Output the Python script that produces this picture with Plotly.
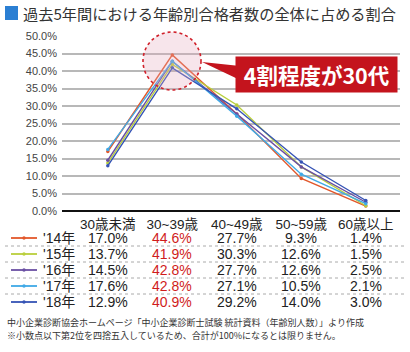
import plotly.graph_objects as go

categories = ["30歳未満", "30~39歳", "40~49歳", "50~59歳", "60歳以上"]
years = ["'14年", "'15年", "'16年", "'17年", "'18年"]
v14 = [17.0, 44.6, 27.7, 9.3, 1.4]
v15 = [13.7, 41.9, 30.3, 12.6, 1.5]
v16 = [14.5, 42.8, 27.7, 12.6, 2.5]
v17 = [17.6, 42.8, 27.1, 10.5, 2.1]
v18 = [12.9, 40.9, 29.2, 14.0, 3.0]
series = [v14, v15, v16, v17, v18]
colors = ["#e2572b", "#b9cf3c", "#6a4fa3", "#3fa9e6", "#3553b5"]
yticks = [0, 5, 10, 15, 20, 25, 30, 35, 40, 45, 50]
title = "過去5年間における年齢別合格者数の全体に占める割合"
callout = "4割程度が30代"
note1 = "中小企業診断協会ホームページ「中小企業診断士試験 統計資料（年齢別人数）」より作成"
note2 = "※小数点以下第2位を四捨五入しているため、合計が100%になるとは限りません。"

W, H = 410, 352
L, R, T, B = 62, 10, 36, 141
PW, PH = W - L - R, H - T - B
FONT = "Noto Sans CJK JP"
NUMFONT = "Liberation Sans, Noto Sans CJK JP"
RED = "#c4141d"


def px(x):
    return (x - L) / PW


def py(y):
    return (H - B - y) / PH


xs = list(range(len(categories)))
fig = go.Figure()
for name, vals, c in zip(years, series, colors):
    fig.add_trace(go.Scatter(x=xs, y=vals, mode="lines+markers", name=name,
                             line=dict(color=c, width=1.4),
                             marker=dict(size=3.5, color=c), showlegend=False))

shapes = []
annotations = []

# title
shapes.append(dict(type="rect", xref="paper", yref="paper", x0=px(5), x1=px(18), y0=py(20), y1=py(6),
                   fillcolor="#2b7fd3", line=dict(width=0), layer="above"))
annotations.append(dict(text=title, xref="paper", yref="paper", x=px(21), y=py(13), xanchor="left",
                        yanchor="middle", showarrow=False, font=dict(size=15.2, color="#333", family=FONT)))

# highlight circle
shapes.append(dict(type="circle", xref="paper", yref="paper", x0=px(143), x1=px(201), y0=py(90), y1=py(32),
                   fillcolor="rgba(230,170,190,0.3)", line=dict(color="#d0202a", width=1.6, dash="dot"),
                   layer="above"))
# tail
shapes.append(dict(type="path", xref="paper", yref="paper",
                   path=f"M {px(202)} {py(62)} L {px(240)} {py(66)} L {px(240)} {py(80)} Z",
                   fillcolor=RED, line=dict(width=0), layer="above"))
# callout box (annotation with background)
bx0, bx1, by0, by1 = 236, 397, 57, 92
annotations.append(dict(text=f"<b>{callout}</b>", xref="paper", yref="paper", x=px((bx0 + bx1) / 2),
                        y=py((by0 + by1) / 2), xanchor="center", yanchor="middle", showarrow=False,
                        width=bx1 - bx0 - 4, height=by1 - by0 - 4, borderpad=2, bgcolor=RED,
                        font=dict(size=21.5, color="white", family=FONT)))

# table
row_y = [238, 254, 270, 286, 302]
for i, (name, vals, c) in enumerate(zip(years, series, colors)):
    ry = row_y[i]
    shapes.append(dict(type="line", xref="paper", yref="paper", x0=px(11), x1=px(37), y0=py(ry), y1=py(ry),
                       line=dict(color=c, width=1.8)))
    shapes.append(dict(type="circle", xref="paper", yref="paper", x0=px(22.3), x1=px(25.7), y0=py(ry + 1.7),
                       y1=py(ry - 1.7), fillcolor=c, line=dict(width=0)))
    annotations.append(dict(text=name, xref="paper", yref="paper", x=px(41), y=py(ry), xanchor="left",
                            yanchor="middle", showarrow=False,
                            font=dict(size=14, color="#222", family=NUMFONT)))
    for j, v in enumerate(vals):
        annotations.append(dict(text=f"{v:.1f}%", xref="x", yref="paper", x=xs[j], y=py(ry),
                                yanchor="middle", showarrow=False,
                                font=dict(size=14, color="#d01c1c" if j == 1 else "#222", family=NUMFONT)))
    if i < len(years) - 1:
        shapes.append(dict(type="line", xref="paper", yref="paper", x0=px(5), x1=px(405),
                           y0=py(ry + 8), y1=py(ry + 8), line=dict(color="#aaa", width=1, dash="dot")))

annotations.append(dict(text=note1, xref="paper", yref="paper", x=px(5), y=py(322), xanchor="left",
                        yanchor="middle", showarrow=False, font=dict(size=9, color="#333", family=FONT)))
annotations.append(dict(text=note2, xref="paper", yref="paper", x=px(5), y=py(335), xanchor="left",
                        yanchor="middle", showarrow=False, font=dict(size=9, color="#333", family=FONT)))

fig.update_layout(
    width=W, height=H, margin=dict(l=L, r=R, t=T, b=B, pad=0),
    paper_bgcolor="white", plot_bgcolor="white",
    shapes=shapes, annotations=annotations,
    font=dict(family=FONT),
    xaxis=dict(range=[-0.71, 4.53], tickvals=xs, ticktext=categories, showgrid=False, zeroline=False,
               showline=False, ticks="", ticklabelstandoff=3,
               tickfont=dict(size=13.5, color="#222", family=NUMFONT)),
    yaxis=dict(range=[0, 50], tickvals=yticks, ticktext=[f"{t:.1f}%" for t in yticks], showgrid=True,
               gridcolor="#b8b8b8", gridwidth=1.5, zeroline=True, zerolinecolor="#111", zerolinewidth=2,
               ticks="", tickfont=dict(size=11, color="#444", family="Liberation Sans"), ticklabelstandoff=4),
)
fig.write_html("out.html")
